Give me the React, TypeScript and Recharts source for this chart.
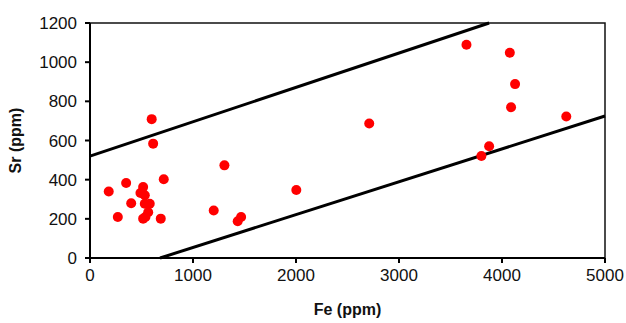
import React from 'react';
import { ScatterChart, Scatter, XAxis, YAxis, ReferenceLine, ReferenceArea } from 'recharts';

const feValues = [182, 351, 516, 716, 490, 532, 400, 532, 580, 565, 270, 516, 538, 687, 1305, 1201, 1434, 1467, 599, 613, 2003, 2711, 3655, 4076, 4127, 4088, 4624, 3875, 3800];
const srValues = [340, 383, 362, 402, 332, 320, 280, 277, 277, 234, 209, 201, 209, 201, 473, 243, 188, 209, 709, 584, 347, 687, 1089, 1048, 888, 770, 723, 571, 521];

const upperLineFe = [0, 3875];
const upperLineSr = [520, 1200];
const lowerLineFe = [680, 5000];
const lowerLineSr = [0, 725];

const xTicks = [0, 1000, 2000, 3000, 4000, 5000];
const yTicks = [0, 200, 400, 600, 800, 1000, 1200];

const points = feValues.map((fe, i) => ({ fe, sr: srValues[i] }));

const font = 'Liberation Sans, Arial, sans-serif';

export default function App() {
  return (
    <div style={{ position: 'absolute', left: 0, top: 0, background: '#fff' }}>
      <ScatterChart width={626} height={323} margin={{ top: 23, right: 21, bottom: 20, left: 30 }}>
        <ReferenceArea x1={0} x2={5000} y1={0} y2={1200} fill="none" stroke="#111" strokeWidth={1.5} ifOverflow="visible" />
        <XAxis
          type="number"
          dataKey="fe"
          domain={[0, 5000]}
          ticks={xTicks}
          height={45}
          stroke="#000"
          strokeWidth={2}
          tickSize={5}
          tickMargin={6}
          tick={{ fill: '#111', fontSize: 17, fontFamily: font }}
          label={{ value: 'Fe (ppm)', position: 'insideBottom', offset: -12, fill: '#111', fontSize: 16, fontWeight: 'bold', fontFamily: font }}
        />
        <YAxis
          type="number"
          dataKey="sr"
          domain={[0, 1200]}
          ticks={yTicks}
          width={60}
          stroke="#000"
          strokeWidth={2}
          tickSize={5}
          tickMargin={8}
          tick={{ fill: '#111', fontSize: 17, fontFamily: font }}
          label={{ value: 'Sr (ppm)', angle: -90, position: 'insideLeft', offset: -15, fill: '#111', fontSize: 16, fontWeight: 'bold', fontFamily: font, style: { textAnchor: 'middle' } }}
        />
        <ReferenceLine
          segment={[{ x: upperLineFe[0], y: upperLineSr[0] }, { x: upperLineFe[1], y: upperLineSr[1] }]}
          stroke="#000"
          strokeWidth={3}
        />
        <ReferenceLine
          segment={[{ x: lowerLineFe[0], y: lowerLineSr[0] }, { x: lowerLineFe[1], y: lowerLineSr[1] }]}
          stroke="#000"
          strokeWidth={3}
        />
        <Scatter
          data={points}
          fill="#ff0000"
          isAnimationActive={false}
          shape={(props: any) => <circle cx={props.cx} cy={props.cy} r={5} fill="#ff0000" />}
        />
      </ScatterChart>
    </div>
  );
}
